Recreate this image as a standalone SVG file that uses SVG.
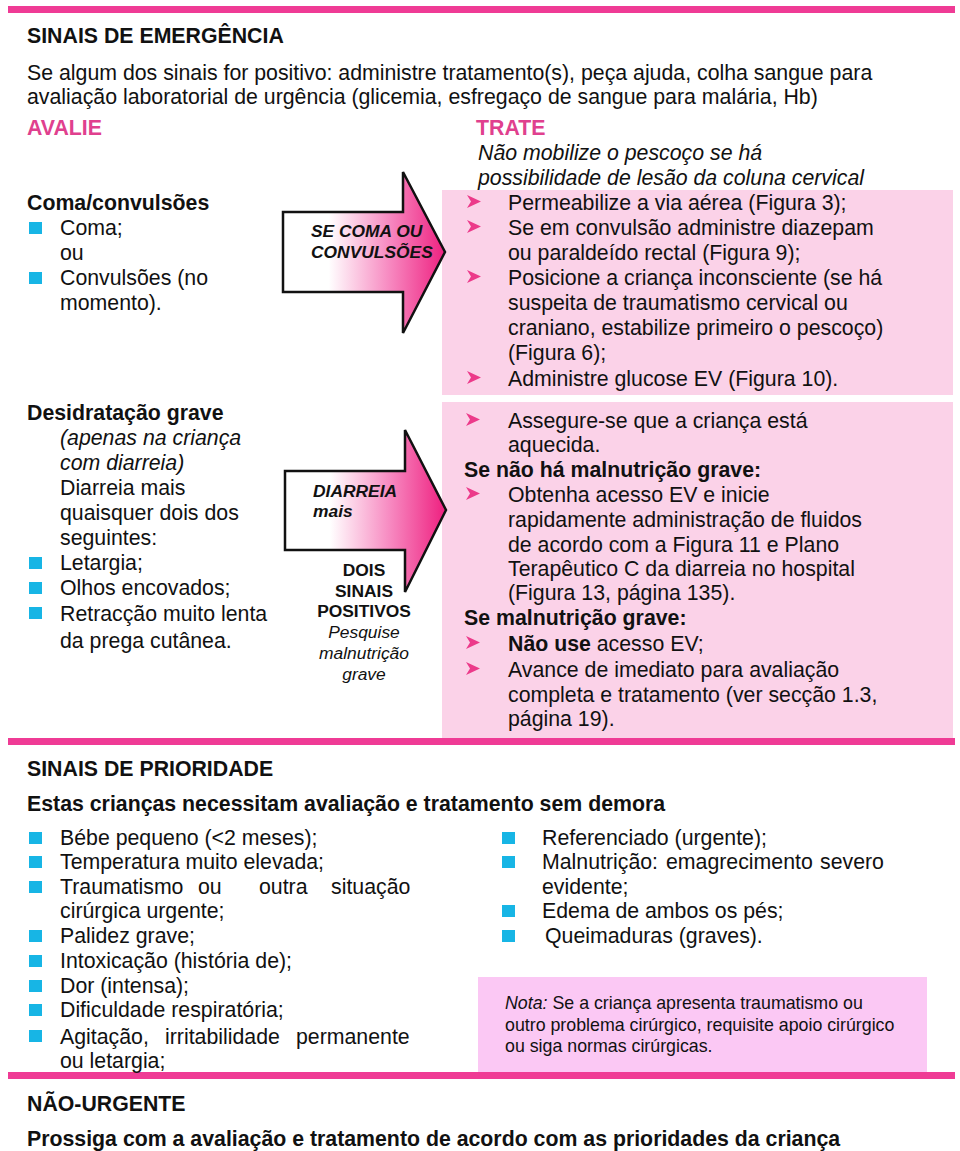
<svg xmlns="http://www.w3.org/2000/svg" xmlns:xlink="http://www.w3.org/1999/xlink" width="960" height="1151" viewBox="0 0 960 1151">
<style>
text{font-family:"Liberation Sans",Arial,Helvetica,sans-serif;fill:#111;}
.t{font-size:21.3px;}
.h{font-size:21.3px;font-weight:bold;}
.b{font-weight:bold;}
.i{font-style:italic;}
.pk{fill:#e0408e;font-weight:bold;font-size:21.3px;}
.ar{font-size:17.4px;font-weight:bold;font-style:italic;}
.ac{font-size:17.4px;text-anchor:middle;}
.n{font-size:17.8px;}
.stripe{fill:#ef3b95;}
.tbox{fill:#fbd2e8;}
.note{fill:#fbc8f4;}
.sq{fill:#17b5e5;}
.chev{fill:#ec3a8a;}
.arrow{stroke:#111;stroke-width:2.5;stroke-linejoin:miter;}
</style>
<defs>
<linearGradient id="g1" gradientUnits="userSpaceOnUse" x1="283" y1="0" x2="446" y2="0">
<stop offset="0" stop-color="#ffffff"/>
<stop offset="0.28" stop-color="#ffffff"/>
<stop offset="0.65" stop-color="#f78ac1"/>
<stop offset="1" stop-color="#ee1f7f"/>
</linearGradient>
<linearGradient id="g2" gradientUnits="userSpaceOnUse" x1="285" y1="0" x2="446" y2="0">
<stop offset="0" stop-color="#ffffff"/>
<stop offset="0.28" stop-color="#ffffff"/>
<stop offset="0.65" stop-color="#f78ac1"/>
<stop offset="1" stop-color="#ee1f7f"/>
</linearGradient>
<path id="chev" d="M0,0 L14,6.5 L0,13 L4,6.5 Z"/>
<rect id="sq" width="13" height="12"/>
</defs>

<rect width="960" height="1151" fill="#ffffff"/>

<!-- background boxes and stripes -->
<g id="backgrounds">
<rect id="treat-box-1" class="tbox" x="442" y="190" width="511" height="205"/>
<rect id="treat-box-2" class="tbox" x="442" y="402" width="511" height="338"/>
<rect id="note-box" class="note" x="478" y="977" width="449" height="96"/>
<rect class="stripe" x="8" y="6" width="947" height="7"/>
<rect class="stripe" x="8" y="738" width="947" height="7"/>
<rect class="stripe" x="8" y="1072" width="947" height="7"/>
</g>

<g id="emergency-header">
<text class="h" x="27" y="43">SINAIS DE EMERGÊNCIA</text>
<text class="t" x="27" y="80">Se algum dos sinais for positivo: administre tratamento(s), peça ajuda, colha sangue para</text>
<text class="t" x="27" y="104">avaliação laboratorial de urgência (glicemia, esfregaço de sangue para malária, Hb)</text>
<text class="pk" x="27" y="135">AVALIE</text>
<text class="pk" x="476" y="135">TRATE</text>
<text class="t i" x="478" y="160">Não mobilize o pescoço se há</text>
<text class="t i" x="478" y="185">possibilidade de lesão da coluna cervical</text>
</g>

<g id="assess-coma">
<text class="t b" x="27" y="210">Coma/convulsões</text>
<use href="#sq" class="sq" x="29" y="222"/>
<text class="t" x="60" y="235">Coma;</text>
<text class="t" x="60" y="260">ou</text>
<use href="#sq" class="sq" x="29" y="272"/>
<text class="t" x="60" y="285">Convulsões (no</text>
<text class="t" x="60" y="310">momento).</text>
</g>

<g id="treat-coma">
<use href="#chev" class="chev" x="467" y="195"/>
<text class="t" x="508" y="210">Permeabilize a via aérea (Figura 3);</text>
<use href="#chev" class="chev" x="467" y="220"/>
<text class="t" x="508" y="235">Se em convulsão administre diazepam</text>
<text class="t" x="508" y="260">ou paraldeído rectal (Figura 9);</text>
<use href="#chev" class="chev" x="467" y="270"/>
<text class="t" x="508" y="285">Posicione a criança inconsciente (se há</text>
<text class="t" x="508" y="310">suspeita de traumatismo cervical ou</text>
<text class="t" x="508" y="335">craniano, estabilize primeiro o pescoço)</text>
<text class="t" x="508" y="360">(Figura 6);</text>
<use href="#chev" class="chev" x="467" y="371"/>
<text class="t" x="508" y="386">Administre glucose EV (Figura 10).</text>
</g>

<g id="assess-dehydration">
<text class="t b" x="27" y="420">Desidratação grave</text>
<text class="t i" x="60" y="445">(apenas na criança</text>
<text class="t i" x="60" y="470">com diarreia)</text>
<text class="t" x="60" y="495">Diarreia mais</text>
<text class="t" x="60" y="520">quaisquer dois dos</text>
<text class="t" x="60" y="545">seguintes:</text>
<use href="#sq" class="sq" x="29" y="557"/>
<text class="t" x="60" y="570">Letargia;</text>
<use href="#sq" class="sq" x="29" y="582"/>
<text class="t" x="60" y="595">Olhos encovados;</text>
<use href="#sq" class="sq" x="29" y="607"/>
<text class="t" x="60" y="621">Retracção muito lenta</text>
<text class="t" x="60" y="648">da prega cutânea.</text>
</g>

<g id="treat-dehydration">
<use href="#chev" class="chev" x="466" y="413"/>
<text class="t" x="508" y="428">Assegure-se que a criança está</text>
<text class="t" x="508" y="452">aquecida.</text>
<text class="t b" x="464" y="477">Se não há malnutrição grave:</text>
<use href="#chev" class="chev" x="466" y="487"/>
<text class="t" x="508" y="502">Obtenha acesso EV e inicie</text>
<text class="t" x="508" y="527">rapidamente administração de fluidos</text>
<text class="t" x="508" y="552">de acordo com a Figura 11 e Plano</text>
<text class="t" x="508" y="576">Terapêutico C da diarreia no hospital</text>
<text class="t" x="508" y="600">(Figura 13, página 135).</text>
<text class="t b" x="464" y="625">Se malnutrição grave:</text>
<use href="#chev" class="chev" x="466" y="636"/>
<text class="t" x="508" y="651"><tspan class="b">Não use</tspan> acesso EV;</text>
<use href="#chev" class="chev" x="466" y="662"/>
<text class="t" x="508" y="677">Avance de imediato para avaliação</text>
<text class="t" x="508" y="702">completa e tratamento (ver secção 1.3,</text>
<text class="t" x="508" y="726">página 19).</text>
</g>

<g id="connectors">
<g id="arrow-coma">
<polygon class="arrow" fill="url(#g1)" points="283,212 403,212 403,172 445,252 403,333 403,292 283,292"/>
<text class="ar" x="311" y="237">SE COMA OU</text>
<text class="ar" x="311" y="258">CONVULSÕES</text>
</g>
<g id="arrow-diarrhoea">
<polygon class="arrow" fill="url(#g2)" points="285,471 405,471 405,430 446,510 405,592 405,550 285,550"/>
<text class="ar" x="313" y="497">DIARREIA</text>
<text class="ar" x="313" y="517">mais</text>
</g>
</g>

<g id="arrow-label-2">
<text class="ac b" x="364" y="576">DOIS</text>
<text class="ac b" x="364" y="597">SINAIS</text>
<text class="ac b" x="364" y="617">POSITIVOS</text>
<text class="ac i" x="364" y="638">Pesquise</text>
<text class="ac i" x="364" y="659">malnutrição</text>
<text class="ac i" x="364" y="680">grave</text>
</g>

<g id="priority-header">
<text class="h" x="27" y="776">SINAIS DE PRIORIDADE</text>
<text class="t b" x="27" y="811">Estas crianças necessitam avaliação e tratamento sem demora</text>
</g>

<g id="priority-left">
<use href="#sq" class="sq" x="29" y="832"/>
<text class="t" x="60" y="845">Bébe pequeno (&lt;2 meses);</text>
<use href="#sq" class="sq" x="29" y="856"/>
<text class="t" x="60" y="869">Temperatura muito elevada;</text>
<use href="#sq" class="sq" x="29" y="881"/>
<text class="t" x="60" y="894">Traumatismo<tspan x="198">ou</tspan><tspan x="259">outra</tspan><tspan x="331">situação</tspan></text>
<text class="t" x="60" y="918">cirúrgica urgente;</text>
<use href="#sq" class="sq" x="29" y="930"/>
<text class="t" x="60" y="943">Palidez grave;</text>
<use href="#sq" class="sq" x="29" y="955"/>
<text class="t" x="60" y="968">Intoxicação (história de);</text>
<use href="#sq" class="sq" x="29" y="980"/>
<text class="t" x="60" y="993">Dor (intensa);</text>
<use href="#sq" class="sq" x="29" y="1004"/>
<text class="t" x="60" y="1017">Dificuldade respiratória;</text>
<use href="#sq" class="sq" x="29" y="1030"/>
<text class="t" x="60" y="1044">Agitação,<tspan x="165">irritabilidade</tspan><tspan x="296">permanente</tspan></text>
<text class="t" x="60" y="1068">ou letargia;</text>
</g>

<g id="priority-right">
<use href="#sq" class="sq" x="502" y="832"/>
<text class="t" x="542" y="845">Referenciado (urgente);</text>
<use href="#sq" class="sq" x="502" y="856"/>
<text class="t" x="542" y="869">Malnutrição:<tspan x="666">emagrecimento</tspan><tspan x="820">severo</tspan></text>
<text class="t" x="542" y="894">evidente;</text>
<use href="#sq" class="sq" x="502" y="905"/>
<text class="t" x="542" y="918">Edema de ambos os pés;</text>
<use href="#sq" class="sq" x="502" y="930"/>
<text class="t" x="545" y="943">Queimaduras (graves).</text>
</g>

<g id="note">
<text class="n" x="505" y="1009"><tspan class="i">Nota:</tspan> Se a criança apresenta traumatismo ou</text>
<text class="n" x="505" y="1031">outro problema cirúrgico, requisite apoio cirúrgico</text>
<text class="n" x="505" y="1052">ou siga normas cirúrgicas.</text>
</g>

<g id="non-urgent">
<text class="h" x="27" y="1111">NÃO-URGENTE</text>
<text class="t b" x="27" y="1146">Prossiga com a avaliação e tratamento de acordo com as prioridades da criança</text>
</g>
</svg>
